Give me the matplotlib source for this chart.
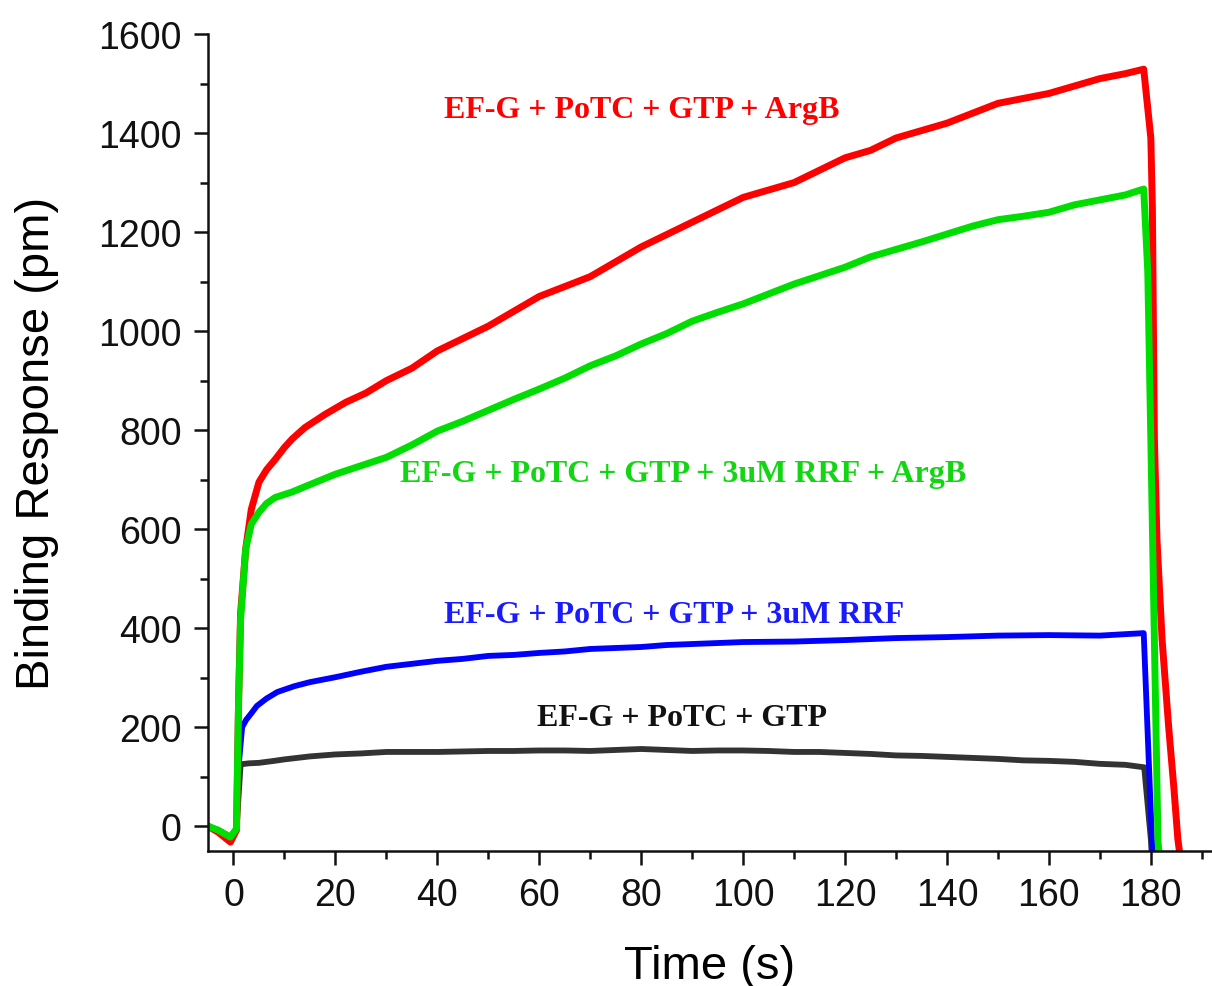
import matplotlib
matplotlib.use("Agg")
import matplotlib.pyplot as plt
from matplotlib.ticker import MultipleLocator

# readings taken off the sensorgram
t_red = [-5, -3, -0.6, 0.6, 1.0, 1.4, 2.4, 3.5, 5, 6.5, 8.2, 10, 11.5, 14, 18, 22, 26,
         30, 35, 40, 45, 50, 55, 60, 65, 70, 75, 80, 85, 90, 95, 100, 105, 110, 115,
         120, 125, 130, 135, 140, 145, 150, 155, 160, 165, 170, 175, 178.6, 180.0,
         180.3, 180.7, 181.2, 182.2, 183.5, 184.5, 185.3, 186.5]
r_red = [0, -12, -32, -8, 250, 430, 560, 640, 695, 720, 741, 765, 782, 805, 832, 856, 875,
         900, 925, 960, 985, 1010, 1040, 1070, 1090, 1110, 1140, 1170, 1195, 1220, 1245,
         1270, 1285, 1300, 1325, 1350, 1365, 1390, 1405, 1420, 1440, 1460, 1470, 1480,
         1495, 1510, 1520, 1529, 1390, 1250, 780, 580, 378, 200, 80, -26, -120]

t_green = [-5, -3, -0.6, 0.6, 1.0, 1.4, 2.4, 3.5, 5, 6.5, 8.2, 11.5, 15, 20, 25, 30, 35,
           40, 45, 50, 55, 60, 65, 70, 75, 80, 85, 90, 95, 100, 105, 110, 115, 120, 125,
           130, 135, 140, 145, 150, 155, 160, 165, 170, 175, 178.6, 179.4, 180.0, 181.4, 182]
r_green = [0, -8, -22, -5, 250, 418, 560, 610, 634, 652, 664, 675, 690, 711, 728, 745, 770,
           798, 818, 840, 862, 883, 905, 930, 950, 974, 995, 1020, 1038, 1055, 1075, 1095,
           1112, 1129, 1150, 1165, 1180, 1196, 1212, 1225, 1232, 1240, 1255, 1265, 1275,
           1287, 1120, 780, -30, -100]

t_blue = [-5, -3, -0.6, 0.6, 1.0, 1.7, 2.5, 3.5, 4.6, 6.5, 8.6, 10, 12, 15, 20, 25, 30,
          35, 40, 45, 50, 55, 60, 65, 70, 75, 80, 85, 90, 95, 100, 110, 120, 130, 140,
          150, 160, 170, 178.6, 180.2, 180.6]
r_blue = [0, -8, -22, -5, 120, 200, 215, 228, 243, 258, 271, 276, 283, 291, 301, 312, 322,
          328, 334, 338, 344, 346, 350, 353, 358, 360, 362, 366, 368, 370, 372, 373, 376,
          380, 382, 385, 386, 385, 390, -26, -80]

t_black = [-5, -3, -0.6, 0.6, 1.0, 1.4, 3, 5, 8, 10, 15, 20, 25, 30, 35, 40, 45, 50, 55,
           60, 65, 70, 75, 80, 85, 90, 95, 100, 105, 110, 115, 120, 125, 130, 135, 140,
           145, 150, 155, 160, 165, 170, 175, 178.7, 180.0, 180.3]
r_black = [0, -8, -22, -5, 60, 125, 127, 128, 132, 135, 141, 145, 147, 150, 150, 150, 151,
           152, 152, 153, 153, 152, 154, 156, 154, 152, 153, 153, 152, 150, 150, 148, 146,
           143, 142, 140, 138, 136, 133, 132, 130, 126, 124, 119, -26, -80]

labels = ["EF-G + PoTC + GTP + ArgB",
          "EF-G + PoTC + GTP + 3uM RRF + ArgB",
          "EF-G + PoTC + GTP + 3uM RRF",
          "EF-G + PoTC + GTP"]
label_x = [80.1, 88.3, 86.4, 88.1]
label_y = [1448, 713, 428, 220]
label_colors = ["#ff0000", "#12d612", "#1a1aff", "#111111"]

fig = plt.figure(figsize=(12.12, 9.87), dpi=100)
ax = fig.add_axes([0.1716, 0.1368, 0.8284, 0.8277])

ax.plot(t_black, r_black, color="#333333", lw=4.2, solid_joinstyle="round")
ax.plot(t_blue, r_blue, color="#0000ff", lw=4.2, solid_joinstyle="round")
ax.plot(t_red, r_red, color="#ff0000", lw=5.0, solid_joinstyle="round")
ax.plot(t_green, r_green, color="#00dd00", lw=5.0, solid_joinstyle="round")

for txt, x, y, c in zip(labels, label_x, label_y, label_colors):
    ax.text(x, y, txt, color=c, ha="center", va="center", fontsize=23,
            fontweight="bold", family="Liberation Serif")

ax.set_xlim(-5, 192)
ax.set_ylim(-50, 1600)
ax.xaxis.set_major_locator(MultipleLocator(20))
ax.xaxis.set_minor_locator(MultipleLocator(10))
ax.yaxis.set_major_locator(MultipleLocator(200))
ax.yaxis.set_minor_locator(MultipleLocator(100))

for s in ["top", "right"]:
    ax.spines[s].set_visible(False)
for s in ["left", "bottom"]:
    ax.spines[s].set_linewidth(1.8)
    ax.spines[s].set_color("#111111")

ax.tick_params(which="major", direction="out", length=10, width=1.8, pad=9,
               labelsize=27, colors="#111111")
ax.tick_params(which="minor", direction="out", length=5.5, width=1.8, colors="#111111")
for lab in ax.get_xticklabels() + ax.get_yticklabels():
    lab.set_family("Liberation Sans")

ax.set_xlabel("Time (s)", fontsize=34, family="Liberation Sans", labelpad=22)
ax.set_ylabel("Binding Response (pm)", fontsize=34, family="Liberation Sans", labelpad=28)

fig.savefig("out.png", dpi=100)
